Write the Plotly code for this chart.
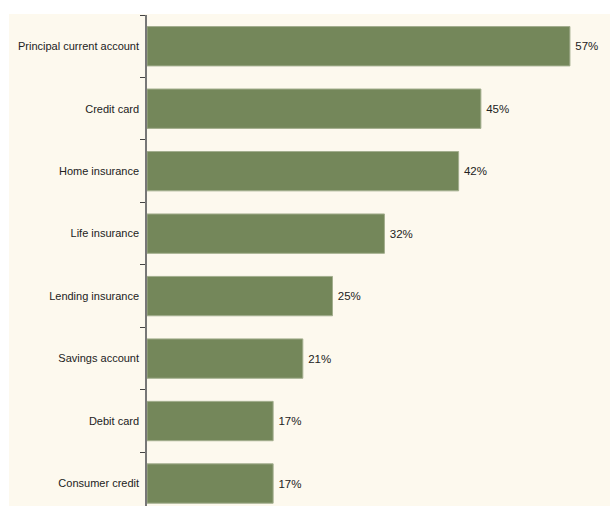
import plotly.graph_objects as go

categories = ["Principal current account", "Credit card", "Home insurance", "Life insurance",
              "Lending insurance", "Savings account", "Debit card", "Consumer credit"]
values = [57, 45, 42, 32, 25, 21, 17, 17]
labels = [f"\u2009{v}%" for v in values]

W, H = 610, 506
ML, MR, MT, MB = 147, 0, 15, 0
PW, PH = W - ML - MR, H - MT - MB
FONT = "Liberation Sans, Arial, sans-serif"

fig = go.Figure(go.Bar(
    x=values, y=categories, orientation="h",
    marker=dict(color="#74875A", line=dict(color="#A3AE8E", width=1)),
    text=labels, textposition="outside", cliponaxis=False,
    textfont=dict(family=FONT, size=11.5, color="#222222"),
    width=0.63,
))

fig.add_shape(type="rect", xref="paper", yref="paper",
              x0=(9 - ML) / PW, x1=1, y0=0, y1=1 + (MT - 14) / PH,
              fillcolor="#FDF9EE", line=dict(width=0), layer="below")

fig.update_layout(
    width=W, height=H,
    margin=dict(l=ML, r=MR, t=MT, b=MB, pad=0),
    paper_bgcolor="white", plot_bgcolor="rgba(0,0,0,0)",
    showlegend=False,
    font=dict(family=FONT, size=11, color="#222222"),
    xaxis=dict(range=[0, 62.4], visible=False, fixedrange=True),
    yaxis=dict(
        categoryorder="array", categoryarray=categories,
        range=[7.36, -0.5], autorange=False,
        showline=True, linecolor="#777777", linewidth=1.5,
        ticks="outside", ticklen=5, tickcolor="#444444", tickwidth=1,
        tickson="boundaries", showgrid=False, zeroline=False,
        ticklabelstandoff=4,
        tickfont=dict(family=FONT, size=11, color="#222222"),
    ),
)

fig.write_html("out.html")
